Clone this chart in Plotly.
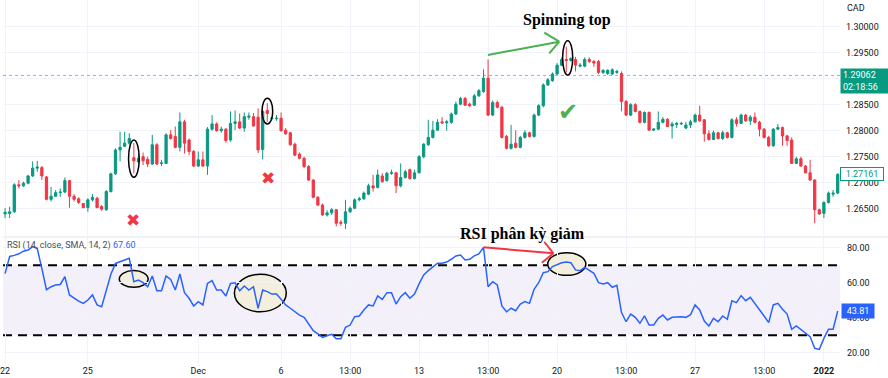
import plotly.graph_objects as go

# ---------------- data ----------------
open_ = [1.2640,1.2641,1.2644,1.2696,1.2694,1.2699,1.2713,1.2728,1.2729,1.2711,
         1.2668,1.2674,1.2681,1.2682,1.2704,1.2674,1.2669,1.2660,1.2652,1.2667,
         1.2670,1.2654,1.2648,1.2683,1.2717,1.2763,1.2770,1.2776,1.2748,1.2740,
         1.2750,1.2745,1.2736,1.2773,1.2737,1.2737,1.2792,1.2789,1.2768,1.2817,
         1.2782,1.2760,1.2732,1.2744,1.2732,1.2803,1.2813,1.2800,1.2803,1.2782,
         1.2814,1.2817,1.2805,1.2826,1.2827,1.2826,1.2764,1.2839,1.2823,1.2823,
         1.2824,1.2801,1.2796,1.2774,1.2755,1.2747,1.2731,1.2705,1.2672,1.2657,
         1.2638,1.2642,1.2648,1.2624,1.2622,1.2644,1.2651,1.2667,1.2669,1.2678,
         1.2694,1.2691,1.2713,1.2704,1.2718,1.2719,1.2694,1.2710,1.2725,1.2708,
         1.2719,1.2750,1.2773,1.2787,1.2801,1.2817,1.2815,1.2816,1.2832,1.2851,
         1.2862,1.2851,1.2849,1.2867,1.2875,1.2901,1.2830,1.2854,1.2845,1.2789,
         1.2766,1.2776,1.2768,1.2787,1.2796,1.2789,1.2830,1.2848,1.2888,1.2896,
         1.2909,1.2926,1.2937,1.2935,1.2937,1.2924,1.2924,1.2937,1.2933,1.2933,
         1.2912,1.2910,1.2909,1.2912,1.2910,1.2856,1.2830,1.2850,1.2837,1.2816,
         1.2835,1.2801,1.2803,1.2816,1.2822,1.2809,1.2812,1.2813,1.2805,1.2811,
         1.2817,1.2830,1.2821,1.2794,1.2783,1.2796,1.2785,1.2796,1.2787,1.2821,
         1.2814,1.2830,1.2819,1.2826,1.2816,1.2803,1.2787,1.2771,1.2803,1.2806,
         1.2790,1.2782,1.2737,1.2746,1.2732,1.2719,1.2705,1.2648,1.2641,1.2662,
         1.2678,1.2680]
high = [1.2651,1.2654,1.2699,1.2705,1.2702,1.2715,1.2741,1.2742,1.2732,1.2713,
        1.2692,1.2686,1.2689,1.2710,1.2705,1.2678,1.2672,1.2661,1.2670,1.2678,
        1.2673,1.2657,1.2686,1.2719,1.2766,1.2798,1.2798,1.2795,1.2776,1.2757,
        1.2758,1.2750,1.2792,1.2776,1.2744,1.2795,1.2801,1.2808,1.2835,1.2821,
        1.2785,1.2763,1.2760,1.2760,1.2807,1.2830,1.2816,1.2808,1.2805,1.2837,
        1.2839,1.2833,1.2835,1.2835,1.2834,1.2843,1.2840,1.2853,1.2827,1.2830,
        1.2835,1.2805,1.2798,1.2777,1.2758,1.2750,1.2734,1.2707,1.2674,1.2660,
        1.2647,1.2651,1.2649,1.2628,1.2667,1.2654,1.2670,1.2673,1.2683,1.2698,
        1.2715,1.2725,1.2718,1.2721,1.2725,1.2721,1.2737,1.2725,1.2727,1.2725,
        1.2753,1.2776,1.2821,1.2819,1.2822,1.2826,1.2821,1.2835,1.2856,1.2865,
        1.2865,1.2854,1.2871,1.2880,1.2918,1.2937,1.2858,1.2858,1.2848,1.2792,
        1.2811,1.2801,1.2790,1.2801,1.2798,1.2833,1.2851,1.2891,1.2901,1.2912,
        1.2930,1.2941,1.2962,1.2941,1.2942,1.2930,1.2941,1.2941,1.2936,1.2936,
        1.2918,1.2918,1.2920,1.2917,1.2914,1.2859,1.2853,1.2853,1.2839,1.2837,
        1.2837,1.2805,1.2837,1.2826,1.2824,1.2817,1.2817,1.2817,1.2817,1.2821,
        1.2833,1.2848,1.2822,1.2801,1.2800,1.2798,1.2800,1.2798,1.2824,1.2826,
        1.2833,1.2832,1.2830,1.2835,1.2819,1.2805,1.2790,1.2805,1.2813,1.2808,
        1.2792,1.2787,1.2750,1.2750,1.2734,1.2744,1.2707,1.2650,1.2664,1.2683,
        1.2686,1.2718]
low = [1.2632,1.2632,1.2642,1.2689,1.2692,1.2697,1.2711,1.2721,1.2705,1.2666,
       1.2664,1.2673,1.2673,1.2680,1.2652,1.2664,1.2659,1.2651,1.2644,1.2664,
       1.2651,1.2646,1.2646,1.2681,1.2715,1.2741,1.2768,1.2773,1.2718,1.2738,
       1.2734,1.2730,1.2734,1.2734,1.2732,1.2736,1.2783,1.2766,1.2760,1.2756,
       1.2753,1.2730,1.2730,1.2730,1.2715,1.2800,1.2798,1.2796,1.2777,1.2779,
       1.2801,1.2803,1.2798,1.2821,1.2808,1.2757,1.2745,1.2817,1.2821,1.2819,
       1.2798,1.2792,1.2771,1.2751,1.2745,1.2728,1.2704,1.2670,1.2655,1.2636,
       1.2635,1.2638,1.2616,1.2617,1.2611,1.2642,1.2649,1.2664,1.2667,1.2676,
       1.2683,1.2689,1.2700,1.2702,1.2715,1.2680,1.2691,1.2708,1.2706,1.2706,
       1.2718,1.2747,1.2771,1.2785,1.2800,1.2813,1.2800,1.2813,1.2830,1.2849,
       1.2848,1.2845,1.2848,1.2865,1.2873,1.2828,1.2828,1.2843,1.2785,1.2764,
       1.2764,1.2766,1.2766,1.2785,1.2787,1.2787,1.2828,1.2845,1.2886,1.2894,
       1.2907,1.2924,1.2912,1.2933,1.2914,1.2922,1.2922,1.2930,1.2923,1.2909,
       1.2909,1.2907,1.2907,1.2909,1.2837,1.2828,1.2828,1.2835,1.2814,1.2814,
       1.2800,1.2800,1.2801,1.2814,1.2807,1.2785,1.2805,1.2811,1.2803,1.2805,
       1.2816,1.2817,1.2779,1.2781,1.2782,1.2783,1.2782,1.2785,1.2785,1.2808,
       1.2813,1.2817,1.2811,1.2814,1.2789,1.2785,1.2769,1.2769,1.2801,1.2771,
       1.2771,1.2736,1.2736,1.2731,1.2718,1.2704,1.2622,1.2638,1.2632,1.2660,
       1.2673,1.2678]
close = [1.2643,1.2644,1.2696,1.2694,1.2699,1.2713,1.2728,1.2730,1.2713,1.2668,
         1.2674,1.2681,1.2682,1.2704,1.2674,1.2668,1.2662,1.2652,1.2667,1.2672,
         1.2652,1.2649,1.2683,1.2717,1.2763,1.2768,1.2776,1.2785,1.2742,1.2747,
         1.2742,1.2736,1.2773,1.2736,1.2738,1.2792,1.2785,1.2768,1.2817,1.2776,
         1.2760,1.2732,1.2744,1.2732,1.2803,1.2813,1.2800,1.2803,1.2781,1.2814,
         1.2817,1.2805,1.2827,1.2828,1.2809,1.2763,1.2837,1.2833,1.2824,1.2824,
         1.2800,1.2794,1.2773,1.2753,1.2747,1.2731,1.2705,1.2672,1.2657,1.2638,
         1.2642,1.2648,1.2622,1.2622,1.2644,1.2651,1.2667,1.2669,1.2680,1.2694,
         1.2690,1.2715,1.2702,1.2718,1.2719,1.2694,1.2710,1.2721,1.2708,1.2719,
         1.2750,1.2774,1.2787,1.2801,1.2816,1.2815,1.2817,1.2832,1.2851,1.2862,
         1.2849,1.2848,1.2867,1.2877,1.2901,1.2830,1.2854,1.2845,1.2787,1.2766,
         1.2774,1.2768,1.2787,1.2796,1.2789,1.2830,1.2848,1.2888,1.2898,1.2909,
         1.2926,1.2937,1.2935,1.2939,1.2926,1.2926,1.2937,1.2933,1.2930,1.2912,
         1.2916,1.2916,1.2917,1.2914,1.2856,1.2830,1.2850,1.2837,1.2816,1.2835,
         1.2801,1.2803,1.2816,1.2822,1.2808,1.2813,1.2814,1.2814,1.2811,1.2817,
         1.2830,1.2819,1.2794,1.2783,1.2796,1.2785,1.2796,1.2787,1.2821,1.2814,
         1.2830,1.2819,1.2826,1.2816,1.2803,1.2787,1.2771,1.2803,1.2806,1.2790,
         1.2781,1.2737,1.2746,1.2732,1.2719,1.2705,1.2648,1.2640,1.2662,1.2680,
         1.2680,1.27161]
rsi = [65.2,75.0,75.6,76.5,78.0,78.7,80.6,79.5,68.0,56.0,
       57.7,58.7,59.0,63.4,53.0,51.1,49.5,48.2,50.1,53.0,
       47.3,46.3,56.0,64.8,71.0,72.0,73.0,73.9,60.6,61.5,
       60.0,57.7,63.8,55.4,55.4,63.8,61.9,55.8,65.0,54.3,
       51.1,46.7,49.2,47.3,59.6,61.2,55.8,55.8,52.4,59.6,
       60.0,55.4,58.1,55.8,57.7,45.4,55.8,54.9,53.5,53.5,
       50.5,47.3,45.4,43.4,41.5,40.2,36.4,32.6,30.7,28.8,
       29.7,30.5,28.0,28.0,34.5,35.8,40.6,41.0,44.4,47.3,
       46.7,52.4,50.5,54.3,54.3,47.8,52.0,54.3,51.1,53.5,
       59.3,64.4,66.9,69.2,71.1,71.1,71.8,73.4,75.3,75.8,
       73.0,73.4,75.3,76.4,80.2,57.7,60.6,58.7,46.7,43.4,
       45.4,44.0,47.8,49.2,48.2,56.2,60.0,65.7,66.3,69.2,
       70.1,71.4,71.8,71.4,67.3,66.9,68.8,66.9,65.4,60.0,
       59.3,60.0,57.4,58.5,42.9,37.7,42.1,40.2,36.8,41.0,
       35.8,35.8,39.6,41.5,38.7,40.2,40.6,40.6,40.2,41.7,
       47.3,44.4,38.1,35.3,39.6,37.7,41.0,39.1,49.7,48.6,
       52.6,49.7,51.6,48.2,44.4,41.0,37.2,47.3,48.2,44.8,
       42.1,33.4,35.3,33.4,31.1,29.2,22.5,21.9,28.2,33.4,
       33.4,43.81]
bar_index = list(range(len(close)))

tick_idx = [0, 18, 42, 60, 75, 90, 105, 120, 135, 150, 165, 178]
tick_text = ["22", "25", "Dec", "6", "13:00", "13", "13:00", "20", "13:00", "27", "13:00", "<b>2022</b>"]
price_ticks = [1.265, 1.270, 1.275, 1.280, 1.285, 1.290, 1.295, 1.300]
# the 1.29000 label is hidden behind the last-price tag in the original
price_ticktext = ["" if abs(v - 1.290) < 1e-9 else f"{v:.5f}" for v in price_ticks]
rsi_ticks = [20, 40, 60, 80]
rsi_levels = [70, 30]
last_price_line = 1.29062
rsi_title = "RSI (14, close, SMA, 14, 2)"
rsi_title_value = "67.60"

UP = "#089981"
DOWN = "#F23645"
GRID = "#f0f3fa"
W, H = 888, 378
ML, MR, MT, MB = 0, 48, 0, 14
PW, PH = W - ML - MR, H - MT - MB

def px(x):
    return x / PW

def py(y):
    return 1 - y / PH

# RSI scale: 80 at y=247.7, 1.75 px per unit
rsi_top = 80 + (247.7 - 238) / 1.75
rsi_bot = 80 - (PH - 247.7) / 1.75

fig = go.Figure()
fig.add_trace(go.Candlestick(
    x=bar_index, open=open_, high=high, low=low, close=close,
    xaxis="x", yaxis="y",
    increasing=dict(line=dict(color=UP, width=1), fillcolor=UP),
    decreasing=dict(line=dict(color=DOWN, width=1), fillcolor=DOWN),
    whiskerwidth=0, hoverinfo="skip"))
fig.add_trace(go.Scatter(
    x=bar_index, y=rsi, mode="lines", xaxis="x2", yaxis="y2",
    line=dict(color="#2962FF", width=1.5), hoverinfo="skip"))

axis_font = dict(family="Roboto, sans-serif", size=9, color="#131722")
fig.update_layout(
    width=W, height=H, margin=dict(l=ML, r=MR, t=MT, b=MB),
    paper_bgcolor="white", plot_bgcolor="white", showlegend=False,
    font=axis_font,
    xaxis=dict(domain=[0, 1], anchor="y", range=[-0.45, 181.5], tickvals=tick_idx,
               showticklabels=False, showgrid=True, gridcolor=GRID, zeroline=False,
               rangeslider=dict(visible=False), ticks=""),
    yaxis=dict(domain=[1 - 236 / PH, 1], anchor="x", side="right",
               range=[1.25975, 1.30513], tickvals=price_ticks,
               ticktext=price_ticktext, showgrid=True,
               gridcolor=GRID, zeroline=False, ticks="", ticklabelstandoff=5,
               tickfont=axis_font),
    xaxis2=dict(domain=[0, 1], anchor="y2", matches="x", tickvals=tick_idx,
                ticktext=tick_text, showgrid=True, gridcolor=GRID, zeroline=False,
                ticks="", tickfont=axis_font, tickangle=0, ticklabeloverflow="allow"),
    yaxis2=dict(domain=[0, 1 - 238 / PH], anchor="x2", side="right",
                range=[rsi_bot, rsi_top], tickvals=rsi_ticks,
                ticktext=[f"{v:.2f}" for v in rsi_ticks], showgrid=True,
                gridcolor=GRID, zeroline=False, ticks="", ticklabelstandoff=6,
                tickfont=axis_font),
)

shapes = []
# RSI background band and level lines
shapes.append(dict(type="rect", xref="x2", yref="y2", x0=-0.45, x1=181.5,
                   y0=min(rsi_levels), y1=max(rsi_levels),
                   fillcolor="rgba(126,87,194,0.09)", line=dict(width=0), layer="below"))
for lv in rsi_levels:
    shapes.append(dict(type="line", xref="x2", yref="y2", x0=-0.45, x1=181.5, y0=lv, y1=lv,
                       line=dict(color="black", width=2, dash="9px,6px"), layer="below"))
# pane separator
shapes.append(dict(type="line", xref="paper", yref="paper", x0=0, x1=W / PW, y0=py(237), y1=py(237),
                   line=dict(color="#e0e3eb", width=1)))
# last price dotted line
shapes.append(dict(type="line", xref="x", yref="y", x0=-0.45, x1=181.5,
                   y0=last_price_line, y1=last_price_line,
                   line=dict(color="rgba(8,153,129,0.55)", width=1, dash="dot")))
# RSI highlight ellipses (filled)
for (xa, xb, ya, yb) in [(24.83, 31.1, 57.4, 66.9), (49.86, 61.13, 43.4, 64.8), (117.96, 126.25, 64.2, 77.1)]:
    shapes.append(dict(type="circle", xref="x2", yref="y2", x0=xa, x1=xb, y0=ya, y1=yb,
                       fillcolor="#f3efdc", line=dict(color="black", width=1.5), layer="below"))
# price ellipses (outline)
for (xa, xb, ya, yb) in [(26.84, 29.16, 1.27104, 1.27821), (55.86, 58.18, 1.28129, 1.28623),
                         (121.2, 123.4, 1.29071, 1.29731)]:
    shapes.append(dict(type="circle", xref="x", yref="y", x0=xa, x1=xb, y0=ya, y1=yb,
                       line=dict(color="black", width=1.5)))
# green arrow (price pane)
G = "#4CAF50"
tip = (120.47, 1.29712)
shapes.append(dict(type="line", xref="x", yref="y", x0=104.96, y0=1.29456, x1=tip[0], y1=tip[1],
                   line=dict(color=G, width=2)))
for arm in [(117.22, 1.29885), (118.30, 1.29488)]:
    shapes.append(dict(type="line", xref="x", yref="y", x0=arm[0], y0=arm[1], x1=tip[0], y1=tip[1],
                       line=dict(color=G, width=2)))
# red arrow (RSI pane)
R = "#F23645"
rtip = (119.2, 76.8)
shapes.append(dict(type="line", xref="x2", yref="y2", x0=104, y0=rsi[104], x1=rtip[0], y1=rtip[1],
                   line=dict(color=R, width=2)))
for arm in [(117.2, 83.4), (116.7, 71.4)]:
    shapes.append(dict(type="line", xref="x2", yref="y2", x0=arm[0], y0=arm[1], x1=rtip[0], y1=rtip[1],
                       line=dict(color=R, width=2)))
fig.update_layout(shapes=shapes)

ann = []
serif = dict(family="Liberation Serif, Times New Roman, serif", size=16, color="black")
ann.append(dict(text="<b>Spinning top</b>", xref="paper", yref="paper", x=px(566), y=py(20),
                showarrow=False, font=serif, xanchor="center", yanchor="middle"))
ann.append(dict(text="<b>RSI phân kỳ giảm</b>", xref="paper", yref="paper", x=px(521), y=py(234),
                showarrow=False, font=serif, xanchor="center", yanchor="middle"))
for (xi, yv) in [(27.9, 1.26283), (57.05, 1.2709)]:
    ann.append(dict(text="✖", xref="x", yref="y", x=xi, y=yv, showarrow=False,
                    font=dict(family="DejaVu Sans", size=17, color=R)))
ann.append(dict(text="✔", xref="x", yref="y", x=122.3, y=1.2836, showarrow=False,
                font=dict(family="DejaVu Sans", size=24, color=G)))
ann.append(dict(text=f"{rsi_title} <span style='color:#2962FF'>{rsi_title_value}</span>",
                xref="paper", yref="paper", x=px(2), y=py(245), xanchor="left", yanchor="middle",
                showarrow=False, font=dict(family="Roboto, sans-serif", size=9, color="#4a4e59")))
ann.append(dict(text="CAD", xref="paper", yref="paper", x=px(845), y=py(8), xanchor="left",
                yanchor="middle", showarrow=False, font=axis_font))
ann.append(dict(text=f"{last_price_line:.5f}<br>02:18:56", xref="paper", yref="paper", x=px(840),
                y=py(81), xanchor="left", yanchor="middle", showarrow=False, align="left",
                bgcolor=UP, borderpad=2, width=44, height=20,
                font=dict(family="Roboto, sans-serif", size=9, color="white")))
ann.append(dict(text=f"{close[-1]:.5f}", xref="paper", yref="y", x=px(840), y=close[-1],
                xanchor="left", yanchor="middle", showarrow=False, bgcolor="white",
                bordercolor=UP, borderwidth=1, borderpad=1, width=40,
                font=dict(family="Roboto, sans-serif", size=9, color=UP)))
ann.append(dict(text=f"{rsi[-1]:.2f}", xref="paper", yref="y2", x=px(841), y=rsi[-1],
                xanchor="left", yanchor="middle", showarrow=False, bgcolor="#2962FF",
                borderpad=2, width=28,
                font=dict(family="Roboto, sans-serif", size=9, color="white")))
fig.update_layout(annotations=ann)

fig.write_html("out.html", config={"displayModeBar": False},
               post_script="document.body.style.margin='0';document.body.style.overflow='hidden';")
